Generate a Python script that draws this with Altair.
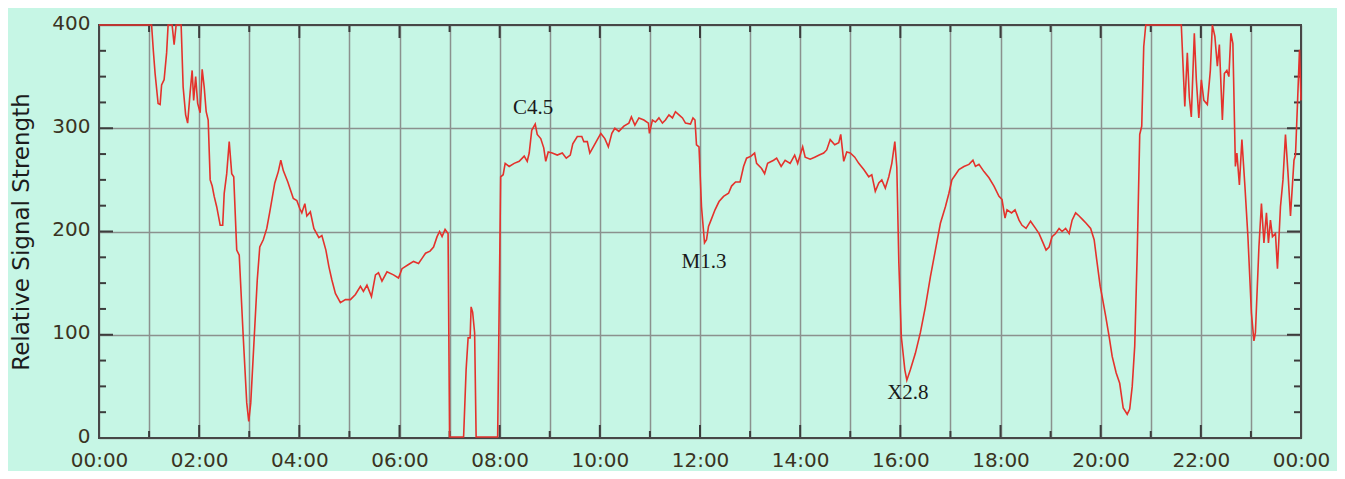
import altair as alt
import pandas as pd

# ---- data ----
hours = [
    0, 1.05, 1.085, 1.12, 1.18, 1.22, 1.25, 1.30, 1.35, 1.38, 1.46, 1.50, 1.54, 1.64, 1.68, 1.73, 1.77,
    1.82, 1.86, 1.89, 1.93, 1.97, 2.02, 2.06, 2.10, 2.14, 2.18, 2.22, 2.26, 2.30, 2.35, 2.42, 2.47,
    2.50, 2.55, 2.60, 2.65, 2.69, 2.75, 2.80, 2.88, 2.95, 2.99, 3.03, 3.10, 3.16, 3.21, 3.28, 3.35,
    3.41, 3.51, 3.58, 3.63, 3.68, 3.77, 3.88, 3.95,
    4.01, 4.05, 4.11, 4.15, 4.22, 4.29, 4.39, 4.45, 4.53, 4.59, 4.65, 4.72, 4.82, 4.92, 5.02, 5.12,
    5.22, 5.28, 5.35, 5.44, 5.52, 5.58, 5.65, 5.75, 5.88, 5.98, 6.05, 6.18, 6.28, 6.38, 6.45, 6.52,
    6.61, 6.68, 6.75, 6.80, 6.85, 6.91, 6.97, 7.00, 7.28, 7.33, 7.37, 7.41, 7.43, 7.46, 7.50, 7.53, 7.96,
    8.02, 8.07, 8.11, 8.19, 8.29, 8.39, 8.49, 8.55, 8.59, 8.64, 8.71, 8.75, 8.82, 8.88, 8.92, 8.97,
    9.05, 9.15, 9.25, 9.33, 9.41, 9.46, 9.55, 9.64, 9.68, 9.75, 9.80, 9.87, 9.95, 10.02, 10.10, 10.17,
    10.24, 10.30, 10.38, 10.48, 10.58, 10.63, 10.70, 10.78, 10.88, 10.97, 10.99, 11.05, 11.11, 11.18,
    11.25, 11.31, 11.38, 11.45, 11.51, 11.58, 11.65, 11.71, 11.81, 11.86, 11.90, 11.93, 11.98,
    12.03, 12.09, 12.13, 12.17, 12.22, 12.30, 12.38, 12.47, 12.57, 12.63, 12.71, 12.80, 12.87, 12.93,
    13.02, 13.09, 13.13, 13.23, 13.29, 13.35, 13.47, 13.53, 13.62, 13.70, 13.80, 13.89, 13.95, 14.05,
    14.10, 14.20, 14.29, 14.38, 14.47, 14.53, 14.60, 14.69, 14.77, 14.81, 14.87, 14.93, 15.00, 15.09,
    15.17, 15.27, 15.37, 15.43, 15.50, 15.57, 15.63, 15.70, 15.77, 15.83, 15.89, 15.93, 15.97, 16.02,
    16.09, 16.13, 16.20, 16.30, 16.40, 16.50, 16.60, 16.70, 16.80, 16.90, 16.97, 17.03, 17.10, 17.17,
    17.27, 17.37, 17.45, 17.50, 17.57, 17.67, 17.77, 17.87, 17.97, 18.03, 18.09, 18.13, 18.22, 18.29,
    18.37, 18.43, 18.51, 18.60, 18.70, 18.77, 18.85, 18.91, 18.97, 19.03, 19.10, 19.17, 19.23, 19.30,
    19.37, 19.43, 19.50, 19.57, 19.65, 19.71, 19.80, 19.87, 19.92, 19.99,
    20.03, 20.10, 20.17, 20.23, 20.31, 20.38, 20.45, 20.53, 20.58, 20.63, 20.68, 20.73, 20.78, 20.82,
    20.86, 20.90, 21.61, 21.68, 21.73, 21.77, 21.81, 21.87, 21.91, 21.96, 22.01, 22.06, 22.13, 22.19,
    22.23, 22.28, 22.33, 22.37, 22.43, 22.47, 22.52, 22.56, 22.60, 22.64, 22.69, 22.72, 22.77, 22.82,
    22.88, 22.94, 23.01, 23.06, 23.09, 23.16, 23.21, 23.26, 23.31, 23.35, 23.39, 23.43, 23.49, 23.53,
    23.59, 23.64, 23.69, 23.74, 23.79, 23.86, 23.89, 23.93, 23.97, 24.0,
]
signal = [
    400, 400, 375, 353, 324, 323, 342, 347, 373, 400, 400, 381, 400, 400, 340, 313, 305,
    335, 356, 327, 350, 324, 315, 357, 340, 316, 308, 250, 244, 234, 224, 206, 206,
    237, 256, 287, 256, 253, 182, 177, 98, 34, 16, 34, 98, 153, 185, 192, 203,
    219, 247, 258, 269, 259, 248, 232, 230,
    222, 218, 227, 215, 219, 203, 194, 196, 182, 166, 153, 140, 131, 134, 134, 139,
    147, 142, 148, 137, 158, 160, 152, 161, 158, 155, 164, 168, 171, 169, 174, 179,
    181, 185, 195, 200, 195, 202, 198, 1, 1, 66, 97, 97, 127, 122, 102, 1, 1,
    253, 255, 266, 263, 266, 268, 273, 268, 276, 298, 304, 294, 290, 281, 268, 277,
    276, 274, 276, 271, 274, 285, 292, 292, 287, 287, 276, 282, 289, 295, 290, 282,
    295, 300, 297, 302, 305, 311, 303, 310, 308, 305, 295, 308, 306, 310,
    305, 308, 313, 310, 316, 313, 310, 305, 304, 310, 308, 284, 282,
    224, 189, 192, 205, 211, 221, 229, 234, 237, 244, 248, 248, 263, 271,
    273, 276, 266, 261, 256, 266, 269, 271, 263, 269, 266, 274, 266, 282,
    272, 270, 272, 274, 276, 279, 289, 284, 286, 294, 268, 277, 276, 272,
    266, 260, 253, 255, 239, 247, 250, 242, 253, 266, 287, 262, 170, 98,
    66, 56, 66, 82, 102, 127, 156, 182, 208, 224, 237, 250, 255, 260,
    263, 265, 269, 263, 265, 258, 252, 244, 234, 231, 213, 221, 218, 221,
    211, 206, 203, 210, 203, 198, 189, 182, 185, 195, 198, 203, 200, 203,
    198, 211, 218, 215, 211, 208, 203, 192, 173, 147,
    137, 118, 98, 79, 63, 53, 29, 23, 28, 50, 89, 179, 294, 302,
    379, 400, 400, 321, 373, 330, 311, 392, 347, 310, 347, 327, 323, 356,
    400, 389, 360, 381, 308, 353, 356, 350, 392, 382, 263, 276, 245, 289,
    244, 195, 121, 94, 102, 185, 227, 189, 218, 189, 211, 195, 198, 164,
    224, 250, 294, 257, 215, 269, 274, 324, 376, 327,
]
hour_ticks = list(range(0, 25))
hour_major = list(range(0, 25, 2))
hour_minor = list(range(1, 24, 2))
y_major = [0, 100, 200, 300, 400]
y_minor = [25, 50, 75, 125, 150, 175, 225, 250, 275, 325, 350, 375]
note_text = ["C4.5", "M1.3", "X2.8"]
note_hour = [8.67, 12.08, 16.15]
note_value = [320, 170, 44]

W, H = 1202, 413
BG = "#c6f6e5"
GRID = "#8b918e"
TICK = "#3c3c3c"

df = pd.DataFrame({"h": hours, "v": signal})
df_hmaj = pd.DataFrame({"h": hour_major})
df_hmin = pd.DataFrame({"h": hour_minor})
df_ymaj = pd.DataFrame({"v": y_major})
df_ymin = pd.DataFrame({"v": y_minor})
df_note = pd.DataFrame({"h": note_hour, "v": note_value, "t": note_text})
df_frame = pd.DataFrame({"k": [0]})

xscale = alt.Scale(domain=[0, 24], nice=False, zero=False)
yscale = alt.Scale(domain=[0, 400], nice=False)

x_axis = alt.Axis(
    values=hour_ticks,
    labelExpr="datum.value % 2 == 0 ? ((datum.value % 24 < 10 ? '0' : '') + (datum.value % 24) + ':00') : ''",
    grid=True, gridColor=GRID, gridWidth=1.5, gridOpacity=1,
    ticks=False, tickSize=0, domain=False,
    labelFont="DejaVu Sans", labelFontSize=20, labelColor="#3a3322",
    labelPadding=12, labelOverlap=False, labelFlush=False, labelBound=False,
    title=None,
)
y_axis = alt.Axis(
    values=y_major,
    grid=True, gridColor=GRID, gridWidth=1.5, gridOpacity=1,
    ticks=False, tickSize=0, domain=False,
    labelFont="DejaVu Sans", labelFontSize=20, labelColor="#3a3322",
    labelPadding=9, labelOffset=-2, labelOverlap=False, labelFlush=False, labelBound=False,
    title="Relative Signal Strength",
    titleFont="DejaVu Sans", titleFontSize=23, titleFontWeight="normal",
    titleColor="#1c1c1c", titlePadding=18,
)

X = alt.X("h:Q", scale=xscale, axis=x_axis)
Y = alt.Y("v:Q", scale=yscale, axis=y_axis)

frame = alt.Chart(df_frame).mark_rect(
    fill=BG, fillOpacity=0, stroke="#474747", strokeWidth=2
).encode(x=alt.value(0), x2=alt.value(W), y=alt.value(0), y2=alt.value(H))

line = alt.Chart(df).mark_line(color="#e4322c", strokeWidth=1.6).encode(x=X, y=Y)

def xticks(data, length, top):
    if top:
        enc = dict(y=alt.value(0), y2=alt.value(length))
    else:
        enc = dict(y=alt.value(H), y2=alt.value(H - length))
    return alt.Chart(data).mark_rule(color=TICK, strokeWidth=2).encode(x=X, **enc)

def yticks(data, length, right):
    if right:
        enc = dict(x=alt.value(W), x2=alt.value(W - length))
    else:
        enc = dict(x=alt.value(0), x2=alt.value(length))
    return alt.Chart(data).mark_rule(color=TICK, strokeWidth=2).encode(y=Y, **enc)

notes = alt.Chart(df_note).mark_text(
    font="Liberation Serif", fontSize=21, color="#1a1a1a"
).encode(x=X, y=Y, text="t:N")

chart = alt.layer(
    xticks(df_hmaj, 13, False), xticks(df_hmin, 7, False),
    xticks(df_hmaj, 13, True), xticks(df_hmin, 7, True),
    yticks(df_ymaj, 14, False), yticks(df_ymin, 7, False),
    yticks(df_ymaj, 14, True), yticks(df_ymin, 7, True),
    frame, line, notes,
).properties(
    width=W, height=H, background=BG,
    autosize=alt.AutoSizeParams(type="none"),
    padding={"left": 91, "top": 17, "right": 36, "bottom": 33},
).configure_view(strokeWidth=0, stroke=None)

chart.save("out.html", embed_options={"renderer": "svg", "actions": False})
